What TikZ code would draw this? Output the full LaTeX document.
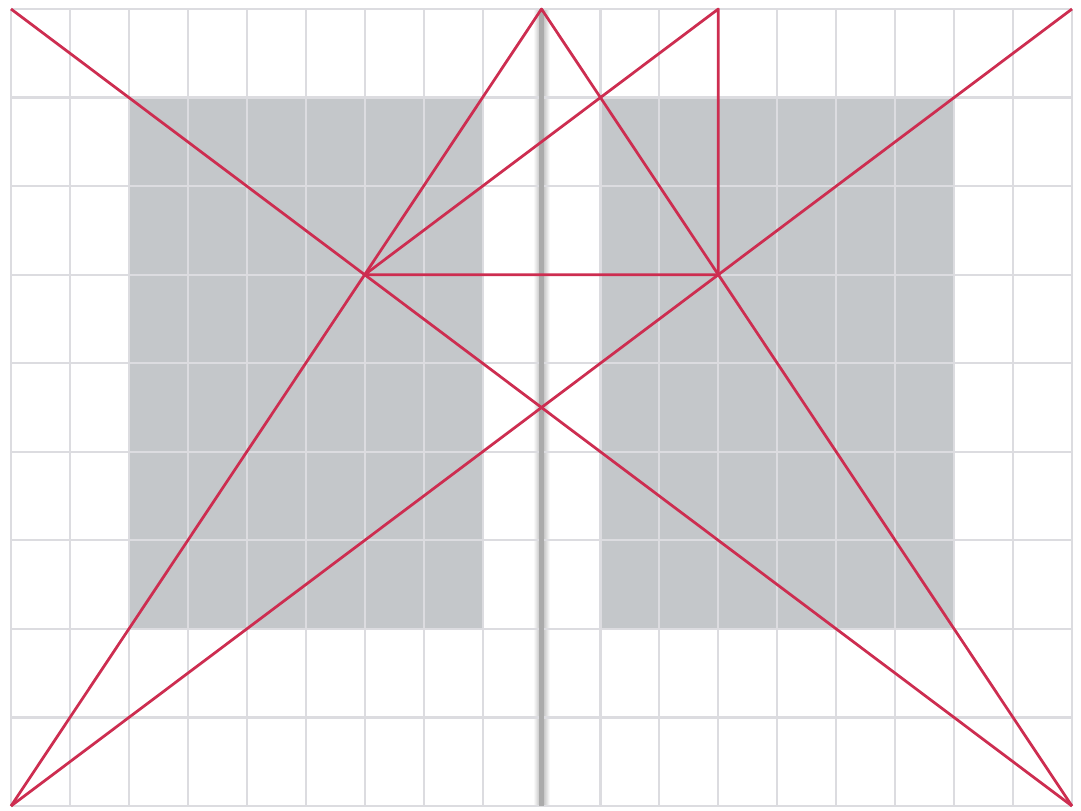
\documentclass[tikz,border=0pt]{standalone}
\usepackage{tikz}
\definecolor{canonred}{RGB}{205,45,80}
\definecolor{gridgray}{RGB}{220,220,224}
\definecolor{blockgray}{RGB}{196,199,202}
\tikzset{
  gridline/.style={gridgray, line width=1pt},
  canonline/.style={canonred, line width=1.3pt, line join=round}
}

\begin{document}
\begin{tikzpicture}[x=0.9824cm, y=1.476cm]
  \useasboundingbox (-0.1866,-0.045) rectangle (18.1527,9.1016);
  \fill[white] (-0.1866,-0.045) rectangle (18.1527,9.1016);
  % text blocks
  \fill[blockgray] (2,2) rectangle (8,8);
  \fill[blockgray] (10,2) rectangle (16,8);
  % gutter shadow
  \shade[left color=white, right color=black!30] (8.86,0) rectangle (9,9);
  \shade[left color=black!30, right color=white] (9,0) rectangle (9.14,9);
  % grid of the spread
  \draw[gridline] (0,0) grid[step={(1,1)}] (18,9);
  \draw[black!33, line width=2.4pt] (9,0) -- (9,9);
  % corners and points of the canon
  \coordinate (bl) at (0,0);
  \coordinate (br) at (18,0);
  \coordinate (tl) at (0,9);
  \coordinate (tr) at (18,9);
  \coordinate (apex) at (9,9);
  \coordinate (left) at (6,6);
  \coordinate (right) at (12,6);
  \coordinate (top) at (12,9);
  % diagonals
  \draw[canonline] (tl) -- (br);
  \draw[canonline] (bl) -- (tr);
  \draw[canonline] (bl) -- (apex) -- (br);
  % construction
  \draw[canonline] (left) -- (right) -- (top) -- cycle;
\end{tikzpicture}
\end{document}
